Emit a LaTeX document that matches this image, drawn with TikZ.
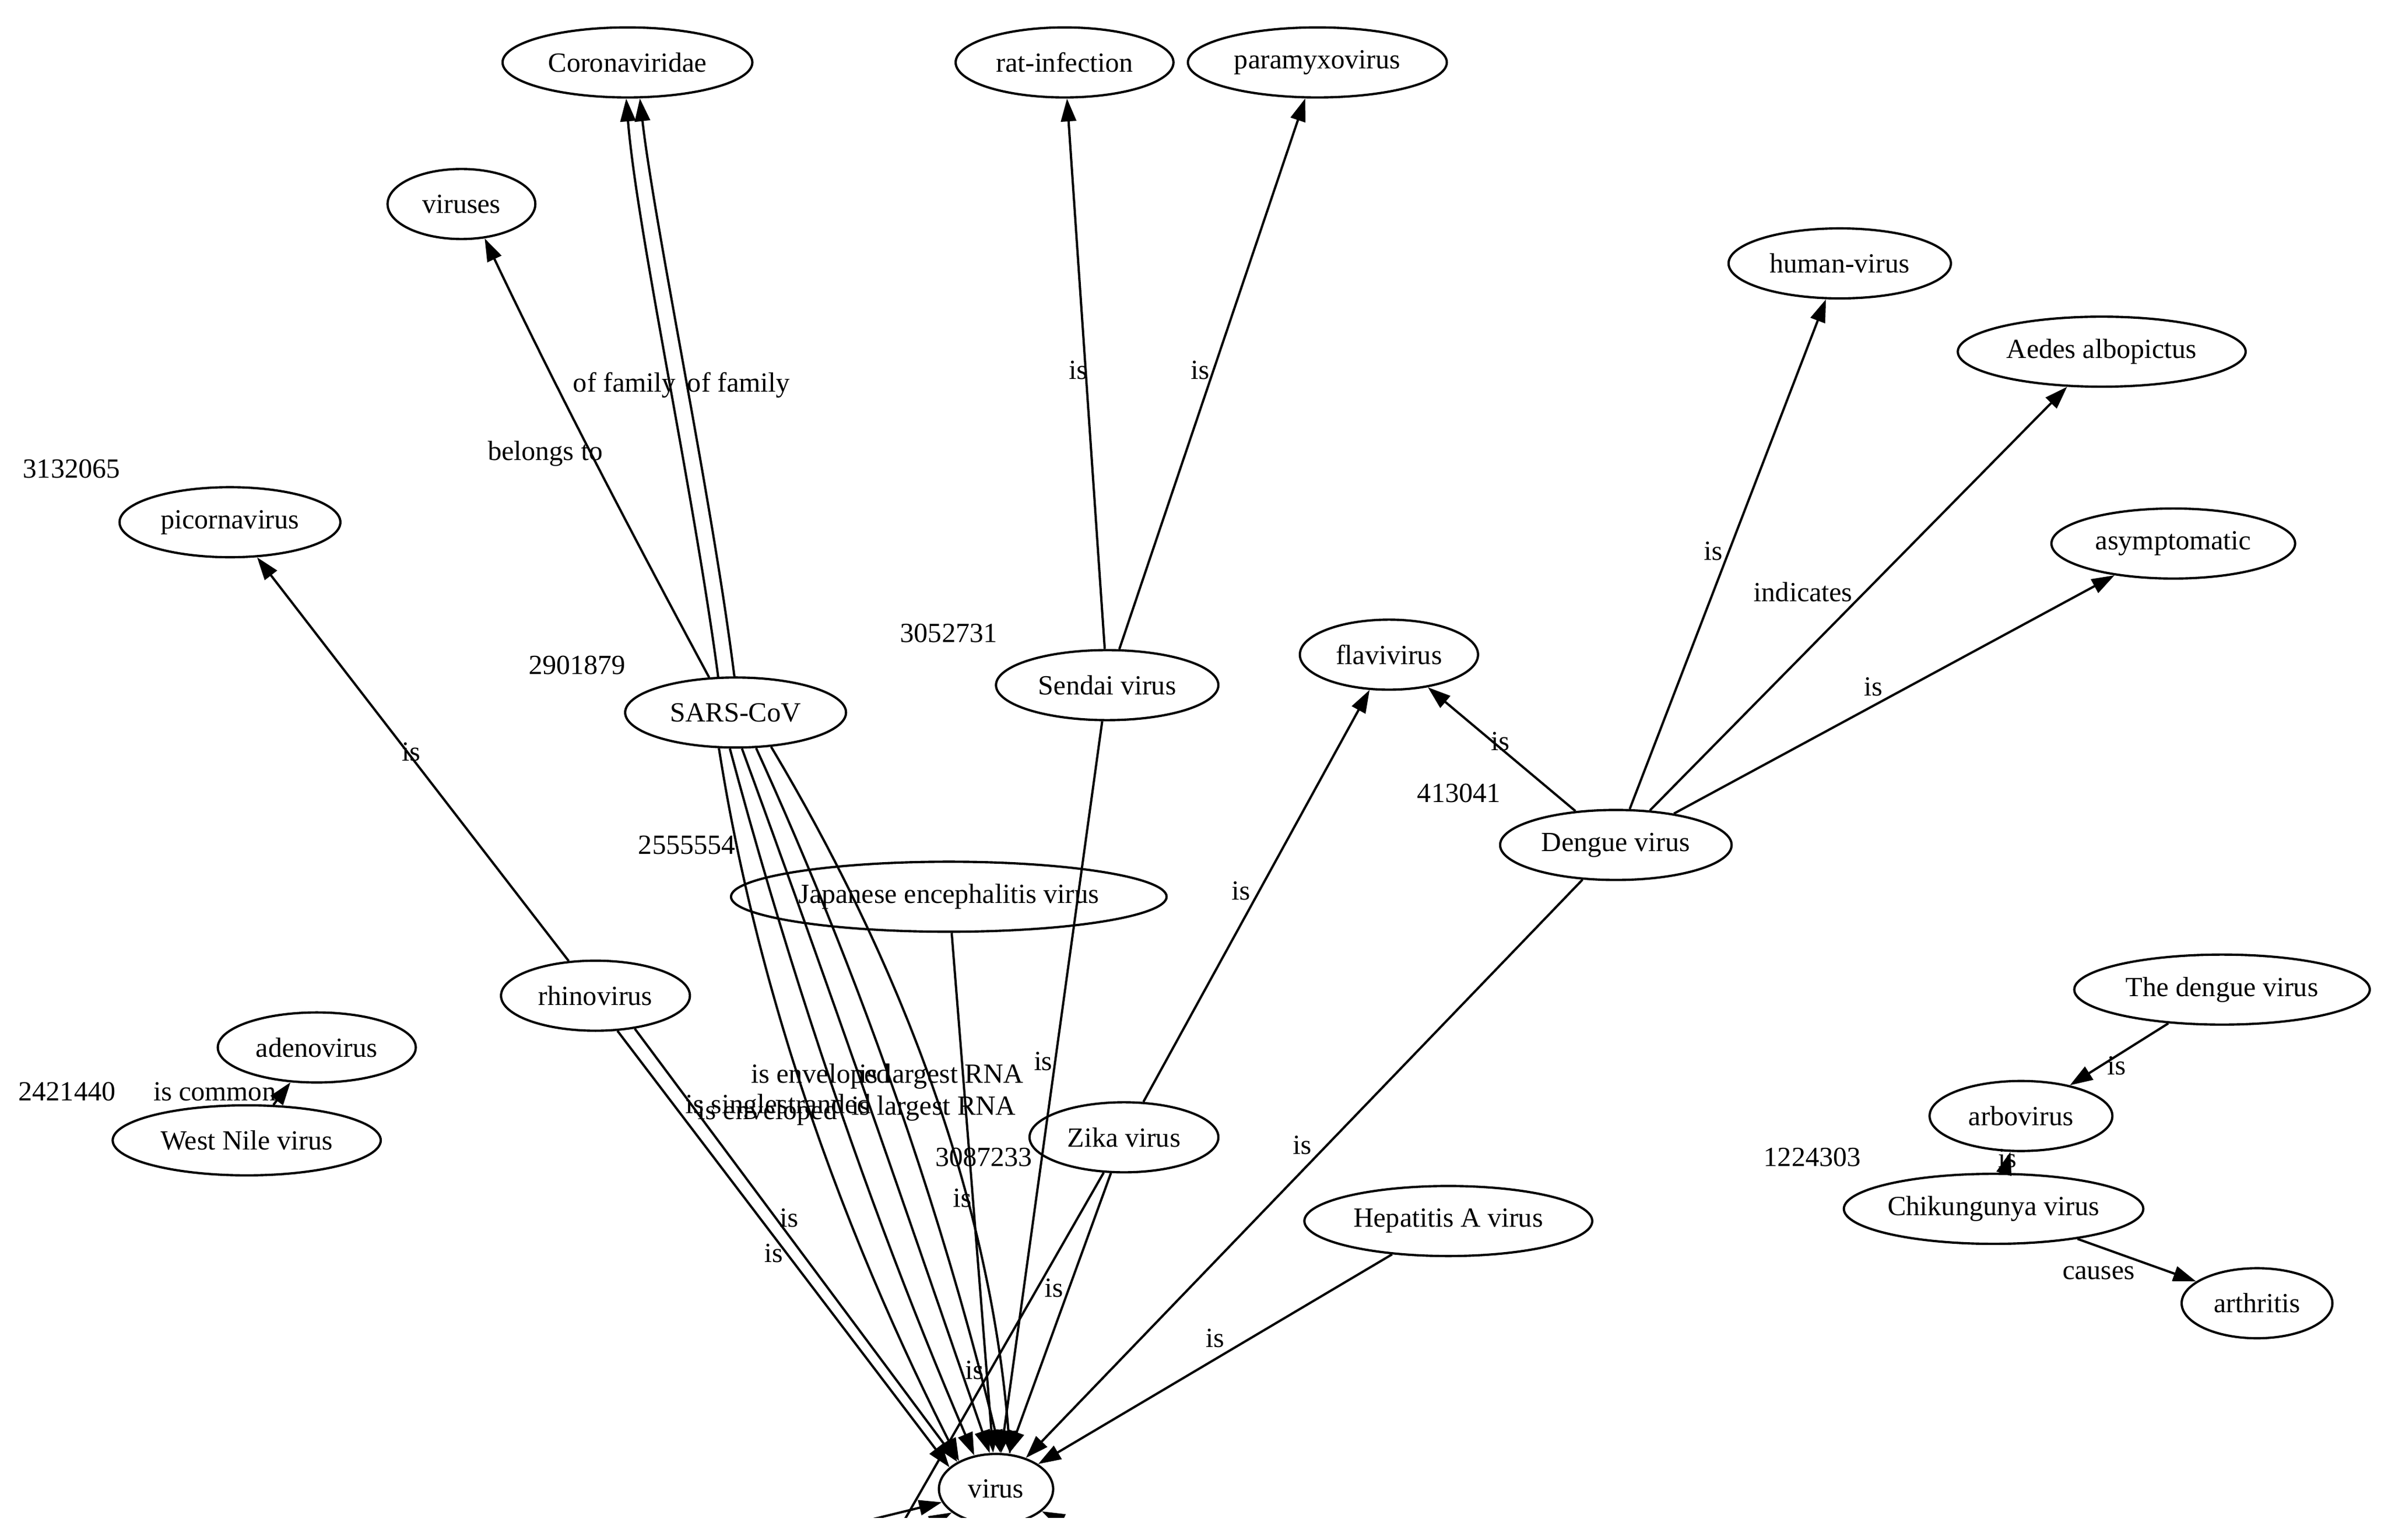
\documentclass[tikz,border=0pt]{standalone}
\usepackage{fontspec}
\setmainfont{Liberation Serif}
\usetikzlibrary{shapes.geometric,arrows.meta}
\newcommand{\gvfont}{\rmfamily\fontsize{18.2}{21.8}\selectfont}
\begin{document}
\begin{tikzpicture}[x=1pt,y=-1pt,
  gnode/.style={ellipse,draw,line width=1.5pt,inner sep=0pt,minimum height=46pt,font=\gvfont},
  edge/.style={line width=1.5pt,-{Triangle[length=15pt,width=10pt]}},
  plainedge/.style={line width=1.5pt},
  lbl/.style={inner sep=0pt,font=\gvfont},
]
\useasboundingbox (0,0) rectangle (1568,1011.5);
\begin{scope}
\clip (0,0) rectangle (1568,997);
% nodes
\node[gnode,minimum width=164pt] (coronaviridae) at (412,41) {Coronaviridae};
\node[gnode,minimum width=143pt] (ratinf) at (699,41) {rat-infection};
\node[gnode,minimum width=170pt] (paramyxo) at (865,41) {paramyxovirus};
\node[gnode,minimum width=97pt] (viruses) at (303,134) {viruses};
\node[gnode,minimum width=146pt] (humanvirus) at (1208,173) {human-virus};
\node[gnode,minimum width=189pt] (aedes) at (1380,231) {Aedes albopictus};
\node[gnode,minimum width=145pt] (picorna) at (151,343) {picornavirus};
\node[gnode,minimum width=160pt] (asympt) at (1427,357) {asymptomatic};
\node[gnode,minimum width=117pt] (flavi) at (912,430) {flavivirus};
\node[gnode,minimum width=146pt] (sendai) at (727,450) {Sendai virus};
\node[gnode,minimum width=145pt] (sars) at (483,468) {SARS-CoV};
\node[gnode,minimum width=152pt] (dengue) at (1061,555) {Dengue virus};
\node[gnode,minimum width=286pt] (jev) at (623,589) {Japanese encephalitis virus};
\node[gnode,minimum width=124pt] (rhino) at (391,654) {rhinovirus};
\node[gnode,minimum width=194pt] (thedengue) at (1459,650) {The dengue virus};
\node[gnode,minimum width=130pt] (adeno) at (208,688) {adenovirus};
\node[gnode,minimum width=120pt] (arbo) at (1327,733) {arbovirus};
\node[gnode,minimum width=176pt] (westnile) at (162,749) {West Nile virus};
\node[gnode,minimum width=124pt] (zika) at (738,747) {Zika virus};
\node[gnode,minimum width=181pt] (chik) at (1309,794) {Chikungunya virus};
\node[gnode,minimum width=189pt] (hepa) at (951,802) {Hepatitis A virus};
\node[gnode,minimum width=99pt] (arthritis) at (1482,856) {arthritis};
\node[gnode,minimum width=75pt] (virus) at (654,978) {virus};
% free ends below the visible area
\coordinate (offa) at (570,1040);
\coordinate (offb) at (450,1028);
\coordinate (offc) at (560,1028);
\coordinate (offd) at (740,1020);
% edges
\draw[edge] (sars.127) .. controls (414,349) and (364,253) .. (viruses.-56);
\draw[edge] (sars.116) .. controls (455,320) and (418,150) .. (coronaviridae.-92);
\draw[edge] (sars.92) .. controls (468,330) and (430,150) .. (coronaviridae.-71);
\draw[edge] (sars.-115) .. controls (496,644) and (548,798) .. (virus.143);
\draw[edge] (sars.-99) .. controls (520,644) and (572,798) .. (virus.123);
\draw[edge] (sars.-80) .. controls (543,644) and (596,798) .. (virus.100);
\draw[edge] (sars.-60) .. controls (566,644) and (619,798) .. (virus.83);
\draw[edge] (sars.-44) .. controls (598,644) and (651,798) .. (virus.68);
\draw[edge] (sendai) -- (ratinf);
\draw[edge] (sendai) -- (paramyxo);
\draw[edge] (sendai) -- (virus);
\draw[edge] (rhino) -- (picorna);
\draw[edge] (rhino.-58) -- (virus.155);
\draw[edge] (rhino.-40) -- (virus.145);
\draw[edge] (dengue) -- (flavi);
\draw[edge] (dengue) -- (humanvirus);
\draw[edge] (dengue) -- (aedes);
\draw[edge] (dengue) -- (asympt);
\draw[edge] (dengue) -- (virus);
\draw[edge] (zika) -- (flavi);
\draw[edge] (zika) -- (virus);
\draw[plainedge] (zika) -- (offa);
\draw[edge] (jev) -- (virus);
\draw[edge] (hepa) -- (virus);
\draw[edge] (westnile) -- (adeno);
\draw[edge] (thedengue) -- (arbo);
\draw[edge] (chik) -- (arbo);
\draw[edge] (chik) -- (arthritis);
\draw[edge] (offb) -- (virus);
\draw[edge] (offc) -- (virus);
\draw[edge] (offd) -- (virus);
% edge labels
\node[lbl] (lbelongs) at (358,298) {belongs to};
\node[lbl] (lfam1) at (410,253) {of family};
\node[lbl] (lfam2) at (485,253) {of family};
\node[lbl] (lrat) at (708,243) {is};
\node[lbl] (lpara) at (788,243) {is};
\node[lbl] (lpicorna) at (270,494) {is};
\node[lbl] (lflavi1) at (985,487) {is};
\node[lbl] (lhuman) at (1125,362) {is};
\node[lbl] (laedes) at (1184,389) {indicates};
\node[lbl] (lasym) at (1230,451) {is};
\node[lbl] (lflavi2) at (815,585) {is};
\node[lbl] (lsendai) at (685,697) {is};
\node[lbl] (ljev) at (632,787) {is};
\node[lbl] (lrh1) at (518,800) {is};
\node[lbl] (lrh2) at (508,823) {is};
\node[lbl] (lzika) at (692,846) {is};
\node[lbl] (lzika2) at (640,900) {is};
\node[lbl] (ldengue) at (855,752) {is};
\node[lbl] (lhepa) at (798,879) {is};
\node[lbl] (lthedengue) at (1390,700) {is};
\node[lbl] (lchik) at (1318,761) {is};
\node[lbl] (lcauses) at (1378,836) {causes};
\node[lbl] (lcommon) at (141,717) {is common};
\node[lbl,anchor=west] (lenv1) at (493,707) {is enveloped};
\node[lbl,anchor=west] (lrna1) at (564,707) {is largest RNA};
\node[lbl,anchor=west] (lss) at (450,727) {is singlestranded};
\node[lbl,anchor=west] (lenv2) at (458,731) {is enveloped};
\node[lbl,anchor=west] (lrna2) at (559,728) {is largest RNA};
% cluster numbers
\node[lbl] (n1) at (47,308) {3132065};
\node[lbl] (n2) at (379,437) {2901879};
\node[lbl] (n3) at (623,416) {3052731};
\node[lbl] (n4) at (451,555) {2555554};
\node[lbl] (n5) at (958,521) {413041};
\node[lbl] (n6) at (44,717) {2421440};
\node[lbl] (n7) at (646,760) {3087233};
\node[lbl] (n8) at (1190,760) {1224303};
\end{scope}
\end{tikzpicture}
\end{document}
